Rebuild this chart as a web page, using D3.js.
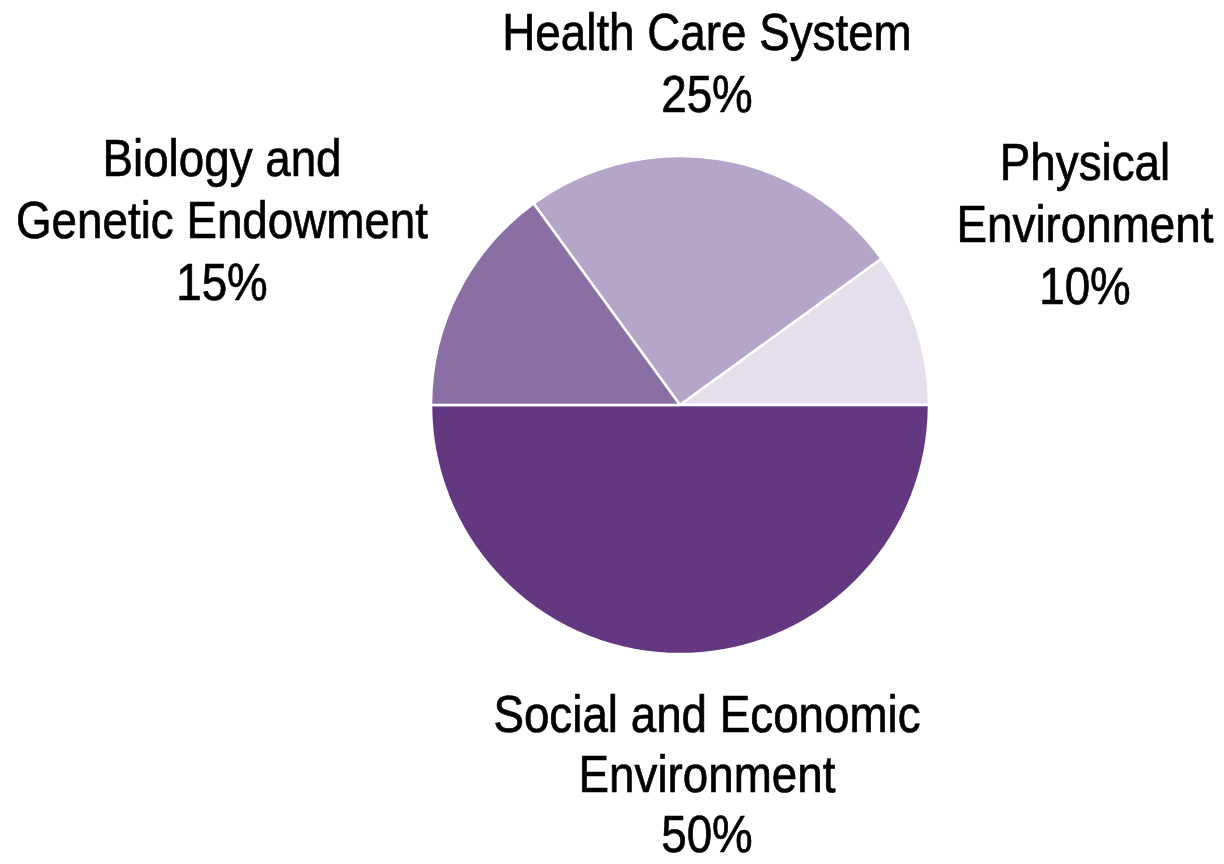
<!DOCTYPE html>
<html><head><meta charset="utf-8">
<script src="https://cdn.jsdelivr.net/npm/d3@7"></script>
<style>html,body{margin:0;padding:0;background:#fff;}svg{display:block;}</style>
</head><body>
<svg id="chart" width="1224" height="864"></svg>
<script>
const categories = ["Health Care System", "Physical Environment", "Social and Economic Environment", "Biology and Genetic Endowment"];
const values = [25, 10, 50, 15];
const colors = ["#b5a5c8", "#e5dfec", "#633880", "#8a6fa5"];
const labelLines = [
  ["Health Care System", "25%"],
  ["Physical", "Environment", "10%"],
  ["Social and Economic", "Environment", "50%"],
  ["Biology and", "Genetic Endowment", "15%"]
];
const labelPos = [[707, 50], [1085, 180], [707, 732], [222, 176]];

const svg = d3.select("#chart");
const cx = 680, cy = 405, r = 249;
const start = -36 * Math.PI / 180;
const pie = d3.pie().sort(null).startAngle(start).endAngle(start + 2 * Math.PI);
const arc = d3.arc().innerRadius(0).outerRadius(r);
const g = svg.append("g").attr("transform", `translate(${cx},${cy})`);
g.selectAll("path").data(pie(values)).join("path")
  .attr("d", arc)
  .attr("fill", (d, i) => colors[i])
  .attr("stroke", "#fff")
  .attr("stroke-width", 2.5)
  .attr("stroke-linejoin", "round");

const font = "'Liberation Sans', Arial, sans-serif";
const sx = 0.88;
labelLines.forEach((lines, i) => {
  const t = svg.append("text")
    .attr("transform", `translate(${labelPos[i][0]},${labelPos[i][1]}) scale(${sx},1)`)
    .attr("text-anchor", "middle")
    .attr("font-family", font)
    .attr("font-size", 52)
    .attr("fill", "#000")
    .attr("stroke", "#000")
    .attr("stroke-width", 0.7);
  lines.forEach((ln, j) => {
    t.append("tspan").attr("x", 0).attr("y", j * (i === 2 ? 60 : 62)).text(ln);
  });
});
</script>
</body></html>
